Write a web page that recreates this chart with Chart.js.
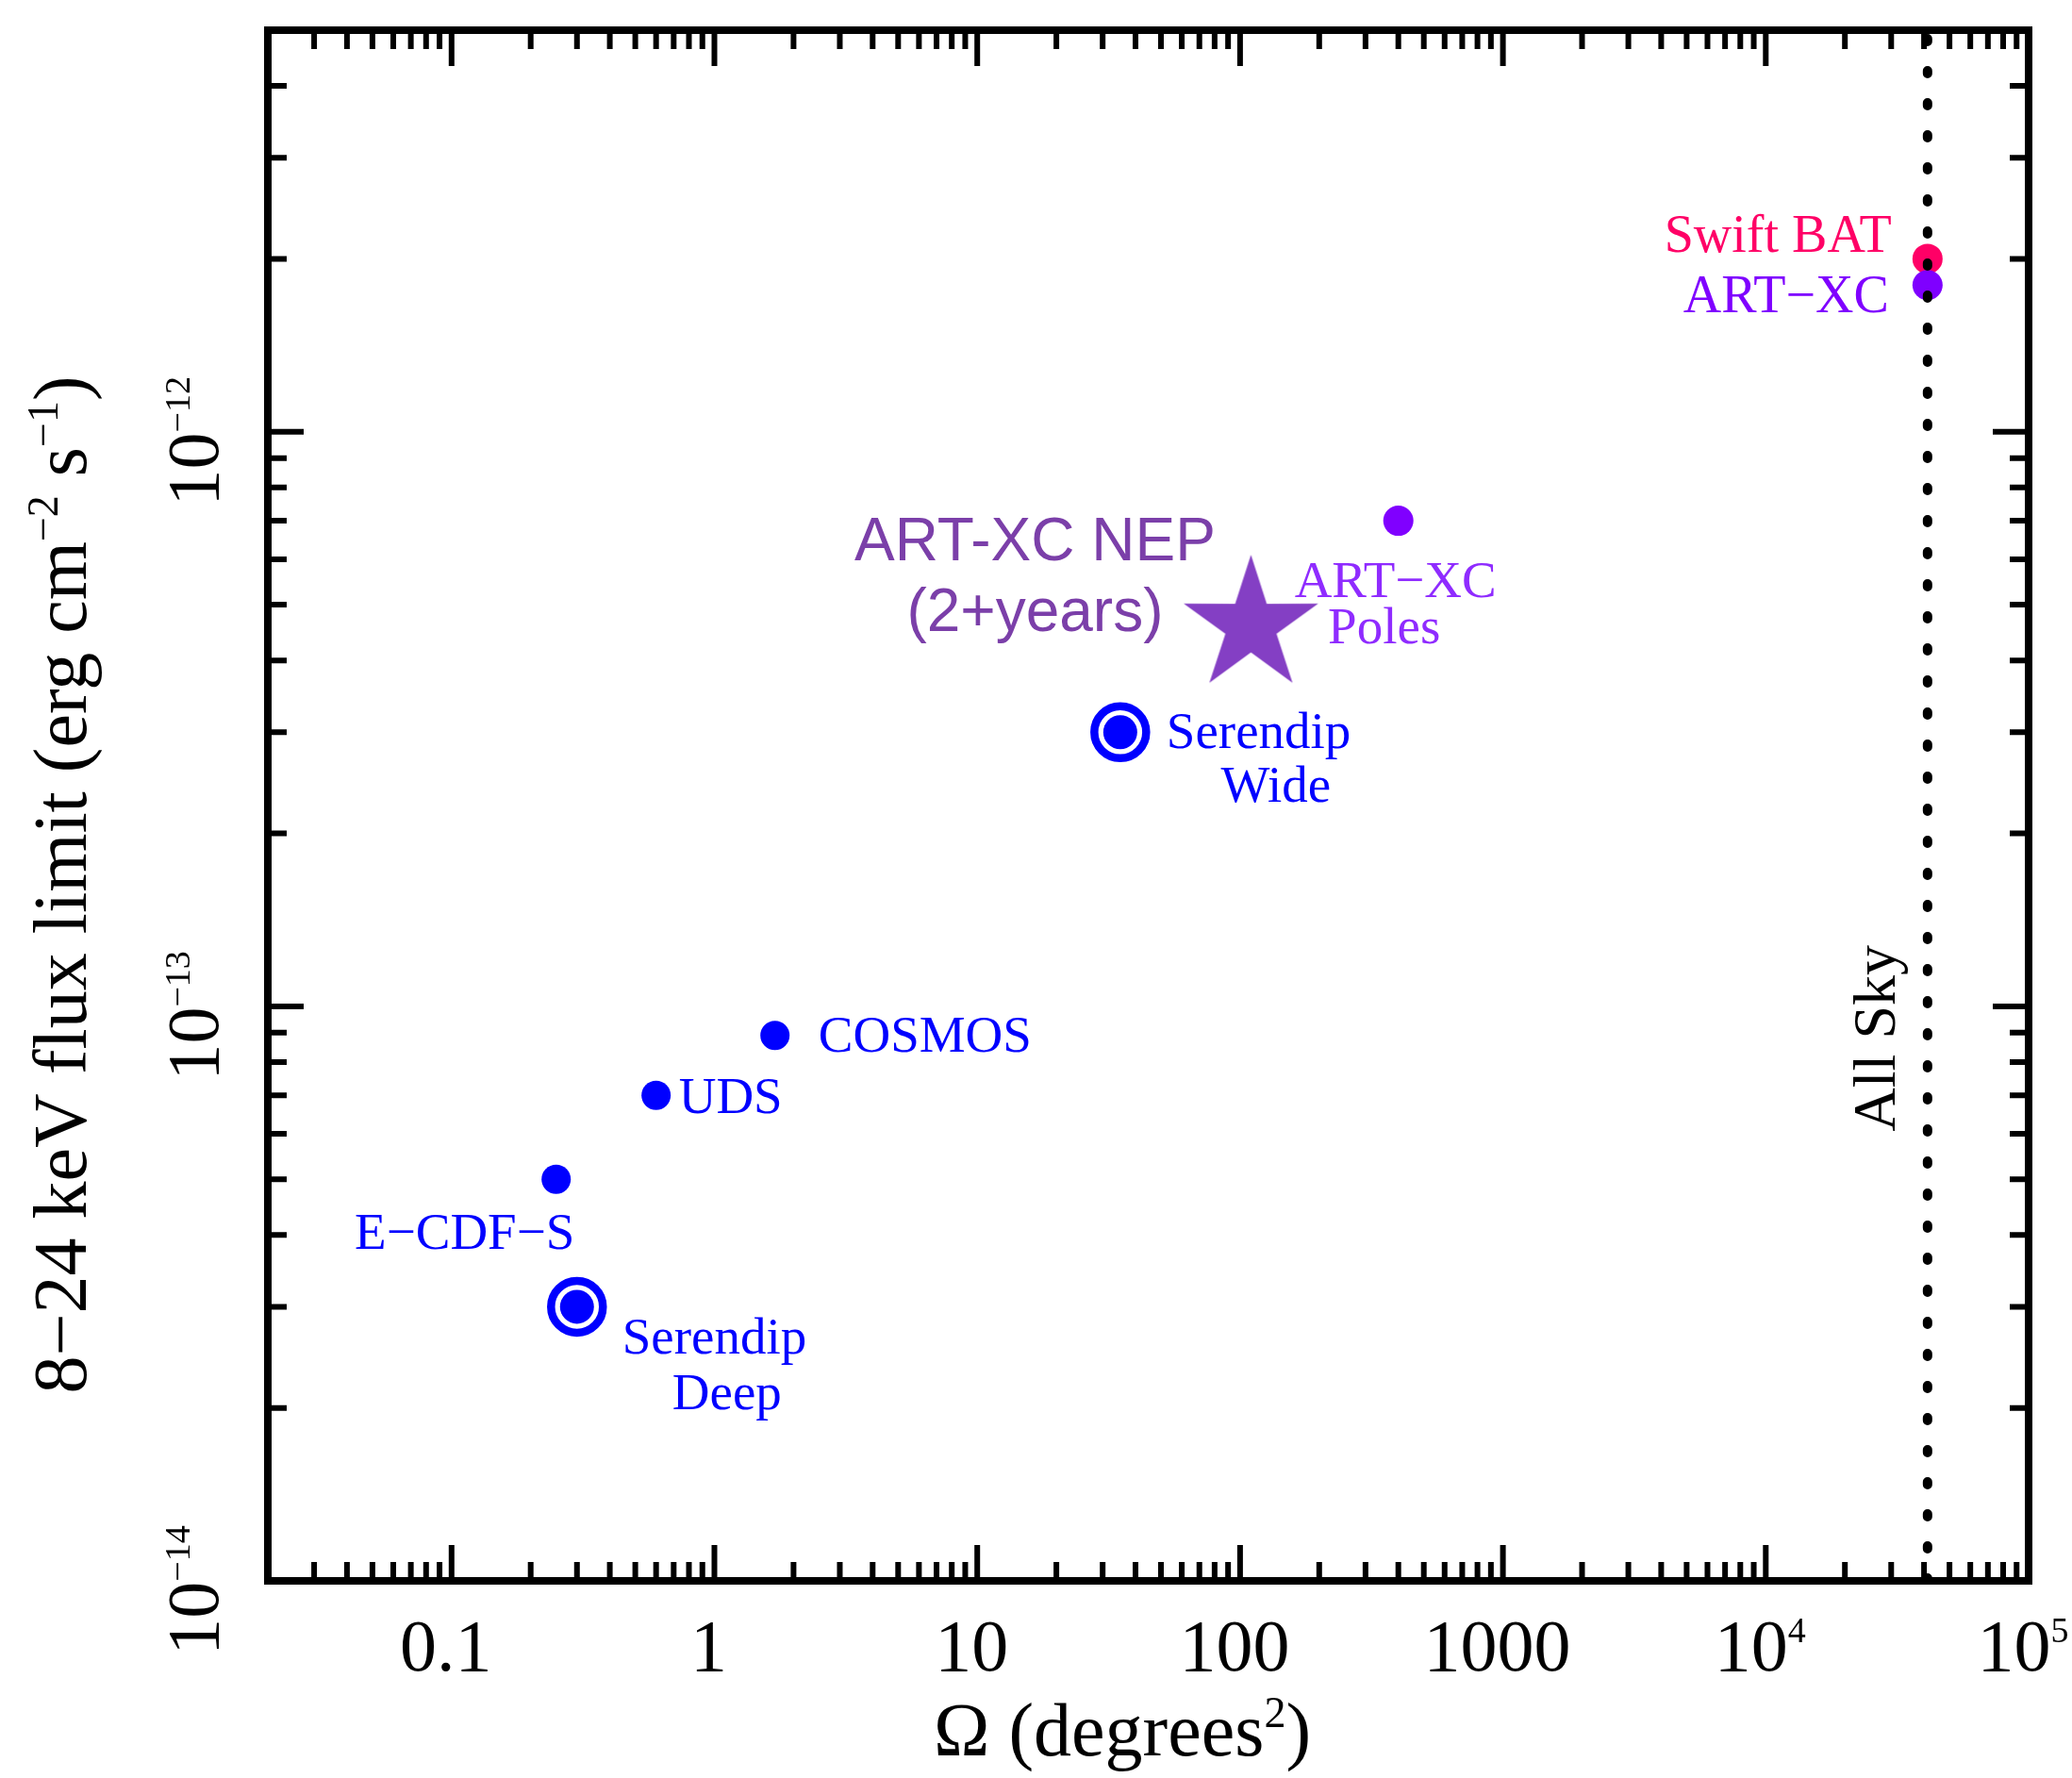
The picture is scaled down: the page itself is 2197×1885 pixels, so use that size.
<!DOCTYPE html>
<html>
<head>
<meta charset="utf-8">
<script src="https://cdn.jsdelivr.net/npm/chart.js@4.4.0/dist/chart.umd.min.js"></script>
<style>
html, body { margin: 0; padding: 0; background: #fff; }
</style>
</head>
<body>
<canvas id="fluxChart" width="2197" height="1885"></canvas>
<script>
// survey area (deg^2) vs 8-24 keV flux limit
const surveyNames = ["E−CDF−S", "UDS", "COSMOS"]
const surveyArea = [0.25, 0.6, 1.7]
const surveyFlux = [5e-14, 7e-14, 8.9e-14]

const serendipNames = ["Serendip Deep", "Serendip Wide"]
const serendipArea = [0.3, 35]
const serendipFlux = [3e-14, 3e-13]

const polesArea = [400]
const polesFlux = [7e-13]

const nepArea = [110]
const nepFlux = [4.6e-13]

const allSkyArea = 41253
const batFlux = [2e-12]
const artAllSkyFlux = [1.8e-12]

const xTickValues = [0.1, 1, 10, 100, 1000, 1e4, 1e5]
const xTickBase = ["0.1", "1", "10", "100", "1000", "10", "10"]
const xTickExp = ["", "", "", "", "", "4", "5"]

const yTickValues = [1e-14, 1e-13, 1e-12]
const yTickBase = ["10", "10", "10"]
const yTickExp = ["−14", "−13", "−12"]

const xMin = 0.02, xMax = 1e5
const yMin = 1e-14, yMax = 5e-12

const SERIF = '"Liberation Serif", "Times New Roman", serif'
const SANS = '"Liberation Sans", Arial, sans-serif'
const BLUE = "#0000ff"

function pts(xs, ys) {
    return xs.map((x, i) => ({ x: x, y: ys[i] }))
}

// filled five point star used as the NEP marker
function makeStar(R, color) {
    const c = document.createElement("canvas")
    const s = Math.ceil(R * 2 + 4)
    c.width = s
    c.height = s
    const g = c.getContext("2d")
    const r = R * 0.38
    g.fillStyle = color
    g.beginPath()
    for (let i = 0; i < 10; i++) {
        const rad = i % 2 === 0 ? R : r
        const a = -Math.PI / 2 + i * Math.PI / 5
        const px = s / 2 + rad * Math.cos(a)
        const py = s / 2 + rad * Math.sin(a)
        if (i === 0) g.moveTo(px, py)
        else g.lineTo(px, py)
    }
    g.closePath()
    g.fill()
    return c
}

// draw text made of normal and superscript pieces
function drawRuns(ctx, runs, x, y, align, size, supSize, supRaise) {
    const widths = runs.map(r => {
        ctx.font = (r[1] ? supSize : size) + "px " + SERIF
        return ctx.measureText(r[0]).width
    })
    const total = widths.reduce((a, b) => a + b, 0)
    let start = x
    if (align === "center") start = x - total / 2
    if (align === "right") start = x - total
    ctx.textAlign = "left"
    ctx.textBaseline = "alphabetic"
    runs.forEach((r, i) => {
        ctx.font = (r[1] ? supSize : size) + "px " + SERIF
        ctx.fillText(r[0], start, r[1] ? y - supRaise : y)
        start += widths[i]
    })
}

function minorValues(lo, hi) {
    let out = []
    for (let d = Math.floor(Math.log10(lo)); d <= Math.ceil(Math.log10(hi)); d++) {
        for (let k = 1; k <= 9; k++) {
            const v = k * Math.pow(10, d)
            if (v > lo * 1.0001 && v < hi * 0.9999) out.push({ v: v, major: k === 1 })
        }
    }
    return out
}

const axesPlugin = {
    id: "axesPlugin",
    afterDatasetsDraw(chart) {
        const ctx = chart.ctx
        const xs = chart.scales.x
        const ys = chart.scales.y
        const a = chart.chartArea
        ctx.save()
        ctx.strokeStyle = "#000"
        ctx.fillStyle = "#000"

        // ticks pointing inwards on all four sides
        ctx.lineWidth = 6
        ctx.lineCap = "butt"
        minorValues(xMin, xMax).forEach(t => {
            const px = xs.getPixelForValue(t.v)
            const len = t.major ? 38 : 20
            ctx.beginPath()
            ctx.moveTo(px, a.bottom); ctx.lineTo(px, a.bottom - len)
            ctx.moveTo(px, a.top); ctx.lineTo(px, a.top + len)
            ctx.stroke()
        })
        minorValues(yMin, yMax).forEach(t => {
            const py = ys.getPixelForValue(t.v)
            const len = t.major ? 38 : 20
            ctx.beginPath()
            ctx.moveTo(a.left, py); ctx.lineTo(a.left + len, py)
            ctx.moveTo(a.right, py); ctx.lineTo(a.right - len, py)
            ctx.stroke()
        })

        // frame
        ctx.lineWidth = 8
        ctx.lineJoin = "miter"
        ctx.strokeRect(a.left, a.top, a.right - a.left, a.bottom - a.top)

        // x tick labels
        xTickValues.forEach((v, i) => {
            const px = xs.getPixelForValue(v) - 6
            const runs = [[xTickBase[i], false]]
            if (xTickExp[i]) runs.push([xTickExp[i], true])
            drawRuns(ctx, runs, px, 1771, "center", 78, 38, 30)
        })

        // y tick labels, rotated
        yTickValues.forEach((v, i) => {
            const py = ys.getPixelForValue(v)
            ctx.save()
            ctx.translate(231, py + 10)
            ctx.rotate(-Math.PI / 2)
            drawRuns(ctx, [[yTickBase[i], false], [yTickExp[i], true]], 0, 0, "center", 78, 38, 30)
            ctx.restore()
        })

        // axis titles
        drawRuns(ctx, [["Ω (degrees", false], ["2", true], [")", false]], 1190, 1861, "center", 80, 46, 30)
        ctx.save()
        ctx.translate(91, 938)
        ctx.rotate(-Math.PI / 2)
        drawRuns(ctx, [["8−24 keV flux limit (erg cm", false], ["−2", true], [" s", false], ["−1", true], [")", false]],
            0, 0, "center", 80, 46, 30)
        ctx.restore()

        // point annotations, placed relative to their marks
        const at = (xv, yv) => [xs.getPixelForValue(xv), ys.getPixelForValue(yv)]
        const note = (xv, yv, lines, dx, dy, align, color, size, font) => {
            const p = at(xv, yv)
            ctx.fillStyle = color
            ctx.font = size + "px " + (font || SERIF)
            ctx.textAlign = align
            ctx.textBaseline = "alphabetic"
            lines.forEach(l => ctx.fillText(l[0], p[0] + dx + (l[1] || 0), p[1] + dy + (l[2] || 0)))
        }
        note(surveyArea[0], surveyFlux[0], [[surveyNames[0]]], -97, 74, "center", BLUE, 55)
        note(surveyArea[1], surveyFlux[1], [[surveyNames[1]]], 24, 19, "left", BLUE, 55)
        note(surveyArea[2], surveyFlux[2], [[surveyNames[2]]], 46, 17, "left", BLUE, 55)
        note(serendipArea[0], serendipFlux[0], [["Serendip", 0, 0]], 48, 50, "left", BLUE, 55)
        note(serendipArea[0], serendipFlux[0], [["Deep", 0, 0]], 159, 109, "center", BLUE, 55)
        note(serendipArea[1], serendipFlux[1], [["Serendip", 0, 0]], 49, 17, "left", BLUE, 55)
        note(serendipArea[1], serendipFlux[1], [["Wide", 0, 0]], 165, 74, "center", BLUE, 55)
        note(polesArea[0], polesFlux[0], [["ART−XC", 0, 0], ["Poles", -12, 49]], -3, 81, "center", "#8f2bff", 55)
        note(nepArea[0], nepFlux[0], [["ART-XC NEP", 0, 0], ["(2+years)", 0, 75]], -229, -69, "center", "#7b3fa9", 64, SANS)
        note(allSkyArea, batFlux[0], [["Swift BAT"]], -38, -7, "right", "#ff0066", 56)
        note(allSkyArea, artAllSkyFlux[0], [["ART−XC"]], -41, 29, "right", "#7f00ff", 56)

        // vertical label of the all-sky line
        ctx.save()
        ctx.fillStyle = "#000"
        ctx.translate(xs.getPixelForValue(allSkyArea) - 35, ys.getPixelForValue(8.8e-14))
        ctx.rotate(-Math.PI / 2)
        ctx.font = "64px " + SERIF
        ctx.textAlign = "center"
        ctx.textBaseline = "alphabetic"
        ctx.fillText("All Sky", 0, 0)
        ctx.restore()

        ctx.restore()
    }
}

function drawChart() {
    const ctx = document.getElementById("fluxChart")

    new Chart(ctx, {
        type: "scatter",
        data: {
            datasets: [
                {
                    label: "All sky",
                    data: [{ x: allSkyArea, y: yMin }, { x: allSkyArea, y: yMax }],
                    showLine: true,
                    borderColor: "#000",
                    borderWidth: 10,
                    borderDash: [3, 31],
                    borderCapStyle: "round",
                    pointRadius: 0
                },
                {
                    label: "ART-XC all sky",
                    data: pts([allSkyArea], artAllSkyFlux),
                    backgroundColor: "#7f00ff",
                    borderWidth: 0,
                    pointRadius: 16
                },
                {
                    label: "Swift BAT",
                    data: pts([allSkyArea], batFlux),
                    backgroundColor: "#ff0066",
                    borderWidth: 0,
                    pointRadius: 16
                },
                {
                    label: "ART-XC Poles",
                    data: pts(polesArea, polesFlux),
                    backgroundColor: "#8000ff",
                    borderWidth: 0,
                    pointRadius: 16
                },
                {
                    label: "ART-XC NEP",
                    data: pts(nepArea, nepFlux),
                    pointStyle: makeStar(75, "#843fc4"),
                    pointRadius: 75
                },
                {
                    label: "Surveys",
                    data: pts(surveyArea, surveyFlux),
                    backgroundColor: BLUE,
                    borderWidth: 0,
                    pointRadius: 15.5
                },
                {
                    label: "Serendip core",
                    data: pts(serendipArea, serendipFlux),
                    backgroundColor: BLUE,
                    borderWidth: 0,
                    pointRadius: 18
                },
                {
                    label: "Serendip ring",
                    data: pts(serendipArea, serendipFlux),
                    backgroundColor: "#fff",
                    borderColor: BLUE,
                    borderWidth: 8.5,
                    pointRadius: 27.5
                }
            ]
        },
        options: {
            responsive: false,
            animation: false,
            devicePixelRatio: 1,
            events: [],
            layout: {
                autoPadding: false,
                padding: { left: 284, right: 46, top: 32, bottom: 209 }
            },
            plugins: {
                legend: { display: false },
                tooltip: { enabled: false }
            },
            scales: {
                x: { type: "logarithmic", min: xMin, max: xMax, display: false },
                y: { type: "logarithmic", min: yMin, max: yMax, display: false }
            }
        },
        plugins: [axesPlugin]
    })
}

Promise.all([
    document.fonts.load("55px " + SERIF),
    document.fonts.load("64px " + SANS)
]).then(drawChart, drawChart)
</script>
</body>
</html>
